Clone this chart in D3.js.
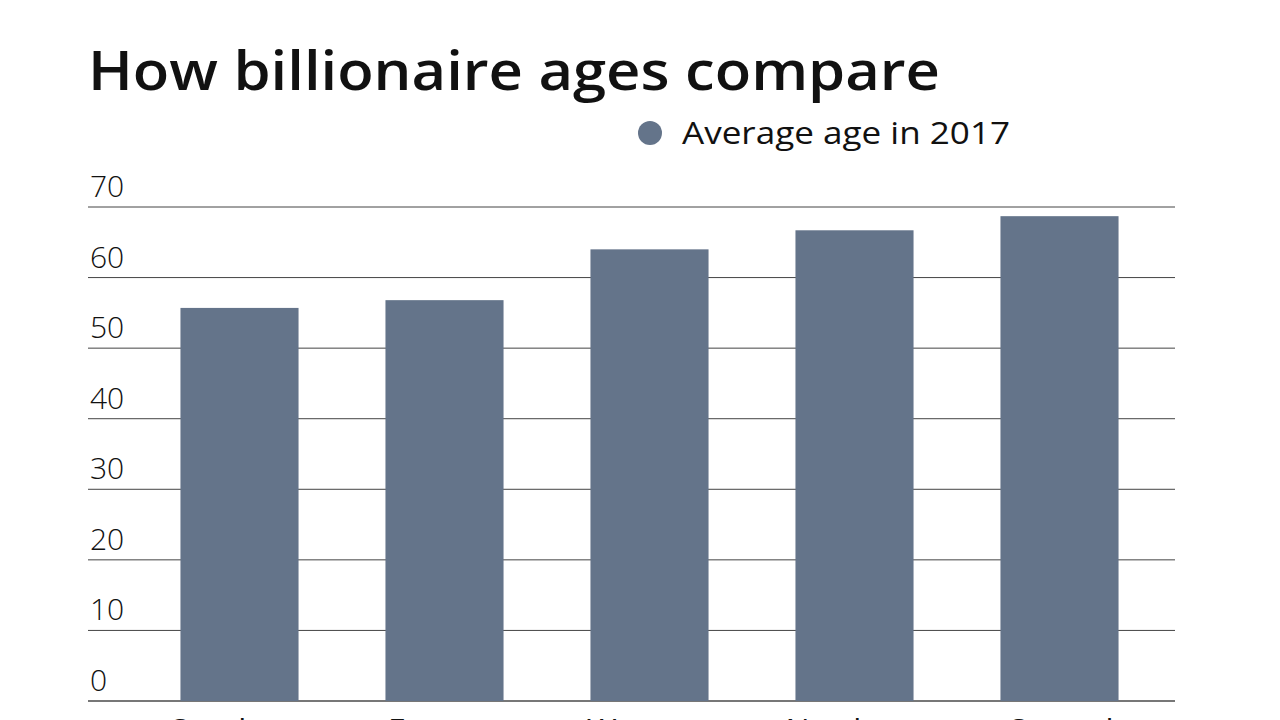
<!DOCTYPE html><html><head><meta charset="utf-8"><script src="https://cdn.jsdelivr.net/npm/d3@7"></script>
<style>body{margin:0;background:#fff}text{font-family:"Open Sans",sans-serif}</style></head><body><svg id="c" width="1280" height="720"></svg><script>
const categories=["Southern","Eastern","Western","Northern","Central"];
const values=[55.7,56.8,64.0,66.7,68.7];
const ticks=[0,10,20,30,40,50,60,70];
const svg=d3.select("#c");
const y=d3.scaleLinear().domain([0,70]).range([701,207]);
const x=d3.scaleBand().domain(categories).range([137,1162]).paddingInner(0.424).paddingOuter(0.212);
svg.append("text").attr("x",88).attr("y",90).attr("font-size",54).attr("font-weight",600).attr("fill","#111").attr("textLength",852).attr("lengthAdjust","spacingAndGlyphs").text("How billionaire ages compare");
svg.append("circle").attr("cx",650).attr("cy",133).attr("r",12).attr("fill","#64748a");
svg.append("text").attr("x",682).attr("y",144).attr("font-size",31).attr("fill","#111").attr("textLength",328).attr("lengthAdjust","spacingAndGlyphs").text("Average age in 2017");
ticks.forEach(t=>{
 svg.append("line").attr("x1",88).attr("x2",1175).attr("y1",y(t)).attr("y2",y(t)).attr("stroke",t===0?"#777":"#444").attr("stroke-width",t===0?2:1);
 svg.append("text").attr("x",90).attr("y",y(t)-10).attr("font-size",30).attr("font-weight",300).attr("fill","#111").text(t);
});
svg.selectAll("rect").data(values).join("rect").attr("x",(d,i)=>x(categories[i])).attr("width",x.bandwidth()).attr("y",d=>y(d)).attr("height",d=>y(0)-y(d)).attr("fill","#64748a");
svg.selectAll(".cl").data(categories).join("text").attr("x",d=>x(d)+x.bandwidth()/2).attr("y",743).attr("text-anchor","middle").attr("font-size",32).attr("fill","#111").text(d=>d);
</script></body></html>
